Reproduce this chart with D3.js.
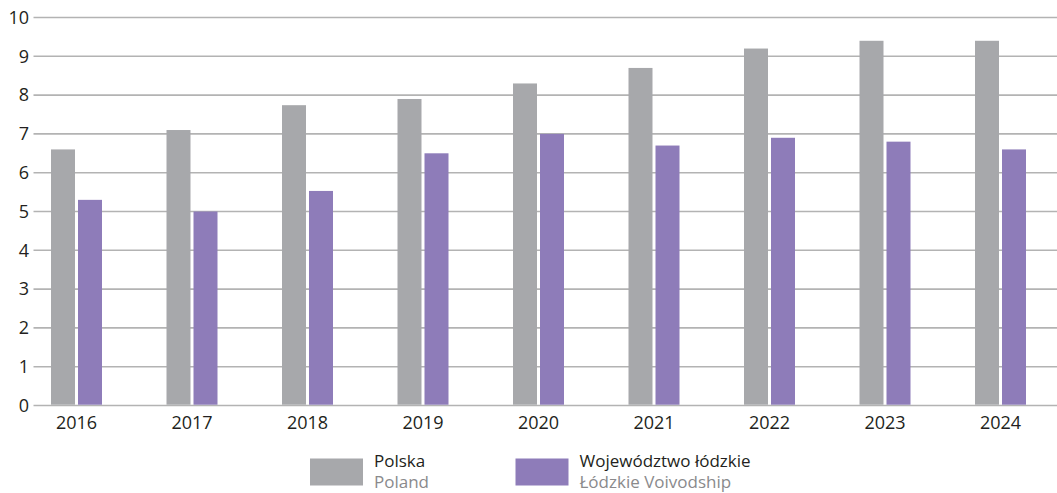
<!DOCTYPE html>
<html>
<head>
<meta charset="utf-8">
<script src="https://cdn.jsdelivr.net/npm/d3@7"></script>
<style>
  html, body { margin: 0; padding: 0; background: #fff; }
  svg { display: block; font-family: "Open Sans", "Noto Sans", sans-serif; }
</style>
</head>
<body>
<svg id="chart" width="1057" height="493"></svg>
<script>
// Years along the x axis
const years = ["2016", "2017", "2018", "2019", "2020", "2021", "2022", "2023", "2024"];
// Series values
const polska = [6.6, 7.1, 7.74, 7.9, 8.3, 8.7, 9.2, 9.4, 9.4];
const lodzkie = [5.3, 5.0, 5.53, 6.5, 7.0, 6.7, 6.9, 6.8, 6.6];
// Y axis ticks
const yTicks = [0, 1, 2, 3, 4, 5, 6, 7, 8, 9, 10];
// Legend labels (Polish / English)
const seriesNames = ["Polska", "Województwo łódzkie"];
const seriesNamesEn = ["Poland", "Łódzkie Voivodship"];
const seriesColors = ["#a7a8ab", "#8e7cb9"];

const svg = d3.select("#chart");
const gridLeft = 33.5, gridRight = 1057;
const yTop = 17.5, yBottom = 405.5;

const y = d3.scaleLinear().domain([0, 10]).range([yBottom, yTop]);

const x0 = d3.scaleBand().domain(years).range([18.75, 1058.25]).paddingInner(0).paddingOuter(0);
const x1 = d3.scaleBand().domain([0, 1]).range([-25.5, 25.5]).paddingInner(3 / 27).paddingOuter(0);

// Horizontal gridlines
svg.append("g")
  .selectAll("line")
  .data(yTicks)
  .join("line")
  .attr("x1", gridLeft)
  .attr("x2", gridRight)
  .attr("y1", d => y(d))
  .attr("y2", d => y(d))
  .attr("stroke", "#b3b3b3")
  .attr("stroke-width", 1.6);

// Y tick labels
svg.append("g")
  .selectAll("text")
  .data(yTicks)
  .join("text")
  .attr("x", 29)
  .attr("y", d => y(d))
  .attr("dy", "0.35em")
  .attr("text-anchor", "end")
  .attr("font-size", 18)
  .attr("fill", "#231f20")
  .text(d => d);

// Bars
const series = [polska, lodzkie];
const groups = svg.append("g")
  .selectAll("g")
  .data(years)
  .join("g")
  .attr("transform", d => `translate(${x0(d) + x0.bandwidth() / 2},0)`);

groups.selectAll("rect")
  .data((d, i) => series.map((s, k) => ({ k, v: s[i] })))
  .join("rect")
  .attr("x", d => x1(d.k))
  .attr("width", x1.bandwidth())
  .attr("y", d => y(d.v))
  .attr("height", d => y(0) - y(d.v) - 0.8)
  .attr("fill", d => seriesColors[d.k]);

// X labels
svg.append("g")
  .selectAll("text")
  .data(years)
  .join("text")
  .attr("x", d => x0(d) + x0.bandwidth() / 2)
  .attr("y", 429)
  .attr("text-anchor", "middle")
  .attr("font-size", 18)
  .attr("fill", "#231f20")
  .text(d => d);

// Legend
const legendX = [310, 515.5];
const legend = svg.append("g")
  .selectAll("g")
  .data(seriesNames)
  .join("g")
  .attr("transform", (d, i) => `translate(${legendX[i]},0)`);

legend.append("rect")
  .attr("x", 0)
  .attr("y", 458.5)
  .attr("width", 53)
  .attr("height", 27)
  .attr("fill", (d, i) => seriesColors[i]);

legend.append("text")
  .attr("x", 64)
  .attr("y", 467)
  .attr("font-size", 17)
  .attr("fill", "#231f20")
  .text(d => d);

legend.append("text")
  .attr("x", 64)
  .attr("y", 488)
  .attr("font-size", 17)
  .attr("fill", "#8a8a8c")
  .text((d, i) => seriesNamesEn[i]);
</script>
</body>
</html>
